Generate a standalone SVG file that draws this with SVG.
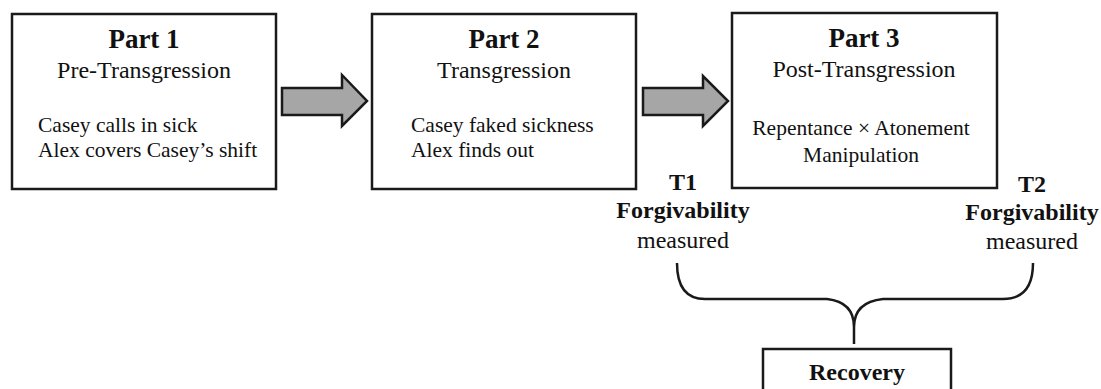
<svg xmlns="http://www.w3.org/2000/svg" width="1101" height="389" viewBox="0 0 1101 389">
<style>
.box{fill:#fff;stroke:#1a1a1a;stroke-width:2.5}
.arr{fill:#a6a6a6;stroke:#1a1a1a;stroke-width:2.5;stroke-linejoin:miter}
.brace{fill:none;stroke:#1a1a1a;stroke-width:2.5}
text{font-family:"Liberation Serif","Times New Roman",serif;fill:#111}
.h{font-weight:bold;font-size:27px;text-anchor:middle}
.s{font-size:24px;text-anchor:middle}
.b{font-size:21.5px}
.bc{font-size:21.5px;text-anchor:middle}
.m{font-weight:bold;font-size:24px;text-anchor:middle}
</style>
<rect width="1101" height="389" fill="#fff"/>
<g id="part1">
<rect class="box" x="12" y="14" width="264" height="175"/>
<text class="h" x="144" y="48">Part 1</text>
<text class="s" x="144" y="78">Pre-Transgression</text>
<text class="b" x="38" y="132">Casey calls in sick</text>
<text class="b" x="38" y="157">Alex covers Casey’s shift</text>
</g>
<g id="part2">
<rect class="box" x="372" y="14" width="264" height="175"/>
<text class="h" x="504" y="48">Part 2</text>
<text class="s" x="504" y="78">Transgression</text>
<text class="b" x="411" y="132">Casey faked sickness</text>
<text class="b" x="411" y="157">Alex finds out</text>
</g>
<g id="part3">
<rect class="box" x="732" y="13" width="265" height="175"/>
<text class="h" x="864" y="47">Part 3</text>
<text class="s" x="864" y="77">Post-Transgression</text>
<text class="bc" x="861" y="135">Repentance × Atonement</text>
<text class="bc" x="861" y="162">Manipulation</text>
</g>
<g id="t1">
<text class="m" x="683" y="190">T1</text>
<text class="m" x="683" y="218">Forgivability</text>
<text class="s" x="683" y="248">measured</text>
</g>
<g id="t2">
<text class="m" x="1032" y="192">T2</text>
<text class="m" x="1032" y="220">Forgivability</text>
<text class="s" x="1032" y="249">measured</text>
</g>
<g id="recovery">
<rect class="box" x="763" y="349" width="188" height="60"/>
<text class="m" x="857" y="380">Recovery</text>
</g>
<g id="connectors">
<polygon class="arr" points="282,88 342,88 342,75 367,101 342,126 342,115 282,115"/>
<polygon class="arr" points="643,88 703,88 703,76 728,101 703,126 703,115 643,115"/>
<path class="brace" d="M677,263 Q677,299 705,299 L827,299 Q854,302 854,327 L854,344 M854,327 Q854,302 883,299 L1003,299 Q1033,299 1033,263"/>
</g>
</svg>
